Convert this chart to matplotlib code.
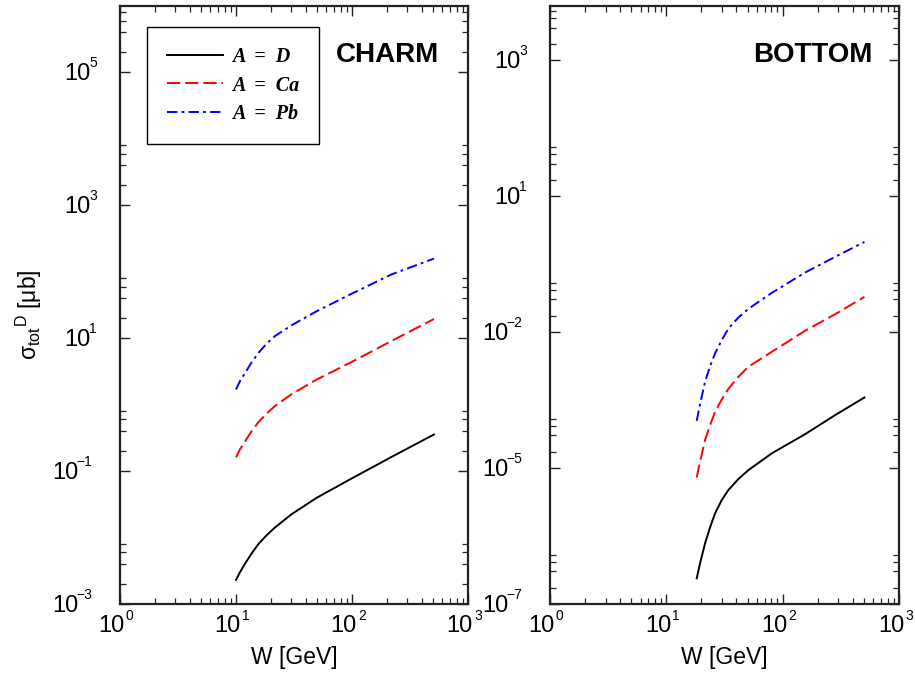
import numpy as np
import matplotlib
matplotlib.use('Agg')
import matplotlib.pyplot as plt
from matplotlib.ticker import FixedLocator, LogLocator, NullFormatter

plt.rcParams['font.family'] = ['Liberation Sans', 'DejaVu Sans']
plt.rcParams['lines.scale_dashes'] = False

# --- data ---
w_charm = [10, 10.8, 12, 13.65, 15.6, 18.4, 21.7, 30.2, 49.6, 96, 220, 509]
charm_d = [2.30e-3, 2.99e-3, 4.09e-3, 5.78e-3, 7.98e-3, 1.09e-2, 1.42e-2, 2.25e-2,
           3.97e-2, 7.50e-2, 0.164, 0.356]
charm_ca = [0.161, 0.212, 0.282, 0.400, 0.546, 0.736, 0.959, 1.44, 2.39, 4.26, 9.12, 19.5]
charm_pb = [1.69, 2.25, 3.01, 4.36, 6.01, 8.31, 10.8, 15.7, 25.5, 45.4, 91.6, 158]

w_bottom = [18.24, 19.49, 21.52, 23.76, 26.22, 29.93, 34.16, 41.63, 50.74, 80.5,
            155.8, 282.3, 504.5]
bottom_d = [2.96e-7, 5.60e-7, 1.30e-6, 2.57e-6, 4.64e-6, 8.16e-6, 1.25e-5, 1.99e-5,
            2.90e-5, 5.89e-5, 1.33e-4, 2.98e-4, 6.29e-4]
bottom_ca = [2.13e-5, 4.13e-5, 1.04e-4, 1.95e-4, 3.43e-4, 5.78e-4, 9.08e-4, 1.51e-3,
             2.31e-3, 4.35e-3, 1.06e-2, 2.14e-2, 4.46e-2]
bottom_pb = [2.34e-4, 4.75e-4, 1.22e-3, 2.37e-3, 4.06e-3, 7.13e-3, 1.17e-2, 1.86e-2,
             2.69e-2, 5.28e-2, 0.125, 0.243, 0.457]

labels = ['A  =  D', 'A  =  Ca', 'A  =  Pb']

# axis ticks (the bottom panel's majors sit every 10^2.5, labelled as in the original)
x_major = [1, 10, 100, 1000]
x_labels = ['0', '1', '2', '3']
charm_yticks = [1e-3, 1e-1, 1e1, 1e3, 1e5]
charm_ylabels = ['\u22123', '\u22121', '1', '3', '5']
bottom_yticks = [1e-7, 10 ** -4.5, 1e-2, 10 ** 0.5, 1e3]
bottom_ylabels = ['\u22127', '\u22125', '\u22122', '1', '3']

styles = [dict(color='black', ls='-'),
          dict(color='#ff0000', dashes=(9.5, 3.6)),
          dict(color='#0000ff', dashes=(7.5, 3, 2, 3))]


def setup(ax, ylim, yticks, ylabels):
    ax.set_xscale('log')
    ax.set_yscale('log')
    ax.set_xlim(1, 1000)
    ax.set_ylim(*ylim)
    for s in ax.spines.values():
        s.set_linewidth(1.6)
        s.set_color('#222222')
    ax.xaxis.set_major_locator(FixedLocator(x_major))
    ax.xaxis.set_minor_locator(LogLocator(base=10, subs=range(2, 10)))
    ax.yaxis.set_major_locator(FixedLocator(yticks))
    minors = [t * m for t in yticks + [yticks[-1] * (yticks[-1] / yticks[-2])]
              for m in (2, 4, 6, 8)]
    ax.yaxis.set_minor_locator(FixedLocator(minors))
    ax.xaxis.set_minor_formatter(NullFormatter())
    ax.yaxis.set_minor_formatter(NullFormatter())
    ax.tick_params(which='both', direction='in', top=True, right=True,
                   labelleft=False, labelbottom=False, color='#222222')
    ax.tick_params(which='major', length=7, width=1.0)
    ax.tick_params(which='minor', length=4, width=0.9)
    # tick labels as "10" with a small raised exponent
    for v, e in zip(yticks, ylabels):
        off = 23 if not e.startswith('\u2212') else 28
        ew = 7 * len(e) - 1
        ax.annotate(e, xy=(0, v), xycoords=('axes fraction', 'data'),
                    xytext=(-off, 5), textcoords='offset pixels',
                    ha='right', va='baseline', fontsize=10)
        ax.annotate('10', xy=(0, v), xycoords=('axes fraction', 'data'),
                    xytext=(-off - ew, -8), textcoords='offset pixels',
                    ha='right', va='baseline', fontsize=17)
    for v, e in zip(x_major, x_labels):
        ax.annotate('10', xy=(v, 0), xycoords=('data', 'axes fraction'),
                    xytext=(5, -28), textcoords='offset pixels',
                    ha='right', va='baseline', fontsize=17)
        ax.annotate(e, xy=(v, 0), xycoords=('data', 'axes fraction'),
                    xytext=(6, -16), textcoords='offset pixels',
                    ha='left', va='baseline', fontsize=10)


fig = plt.figure(figsize=(9.15, 6.75), dpi=100)
ax1 = fig.add_axes([120 / 915, 71 / 675, 348 / 915, 598 / 675])
ax2 = fig.add_axes([550 / 915, 71 / 675, 349 / 915, 598 / 675])

setup(ax1, (1e-3, 1e6), charm_yticks, charm_ylabels)
setup(ax2, (1e-7, 1e4), bottom_yticks, bottom_ylabels)

for ys, lab, st in zip([charm_d, charm_ca, charm_pb], labels, styles):
    ax1.plot(w_charm, ys, lw=1.4, label=lab, **st)
for ys, st in zip([bottom_d, bottom_ca, bottom_pb], styles):
    ax2.plot(w_bottom, ys, lw=1.4, **st)

leg = ax1.legend(loc='upper left', bbox_to_anchor=(0.0776, 0.965), borderaxespad=0,
                 fancybox=False, framealpha=1, edgecolor='black',
                 prop=dict(family='Liberation Serif', weight='bold', style='italic', size=14.5),
                 handlelength=2.75, handletextpad=0.45, labelspacing=0.42,
                 borderpad=1.0)
leg.get_frame().set_linewidth(1.0)

ax1.text(0.9167, 0.9064, 'CHARM', transform=ax1.transAxes, ha='right',
         va='baseline', fontsize=20, fontweight='bold')
ax2.text(0.9255, 0.9064, 'BOTTOM', transform=ax2.transAxes, ha='right',
         va='baseline', fontsize=20, fontweight='bold')

fig.text(294 / 915, 1 - 664 / 675, 'W [GeV]', ha='center', va='baseline', fontsize=16.5)
fig.text(724 / 915, 1 - 664 / 675, 'W [GeV]', ha='center', va='baseline', fontsize=16.5)
fig.text(29 / 915, 1 - 315 / 675, r'$\mathregular{σ_{tot}{}^{D}}$ [μb]',
         rotation=90, ha='center', va='center', fontsize=16.5)

fig.savefig('out.png', dpi=100)
